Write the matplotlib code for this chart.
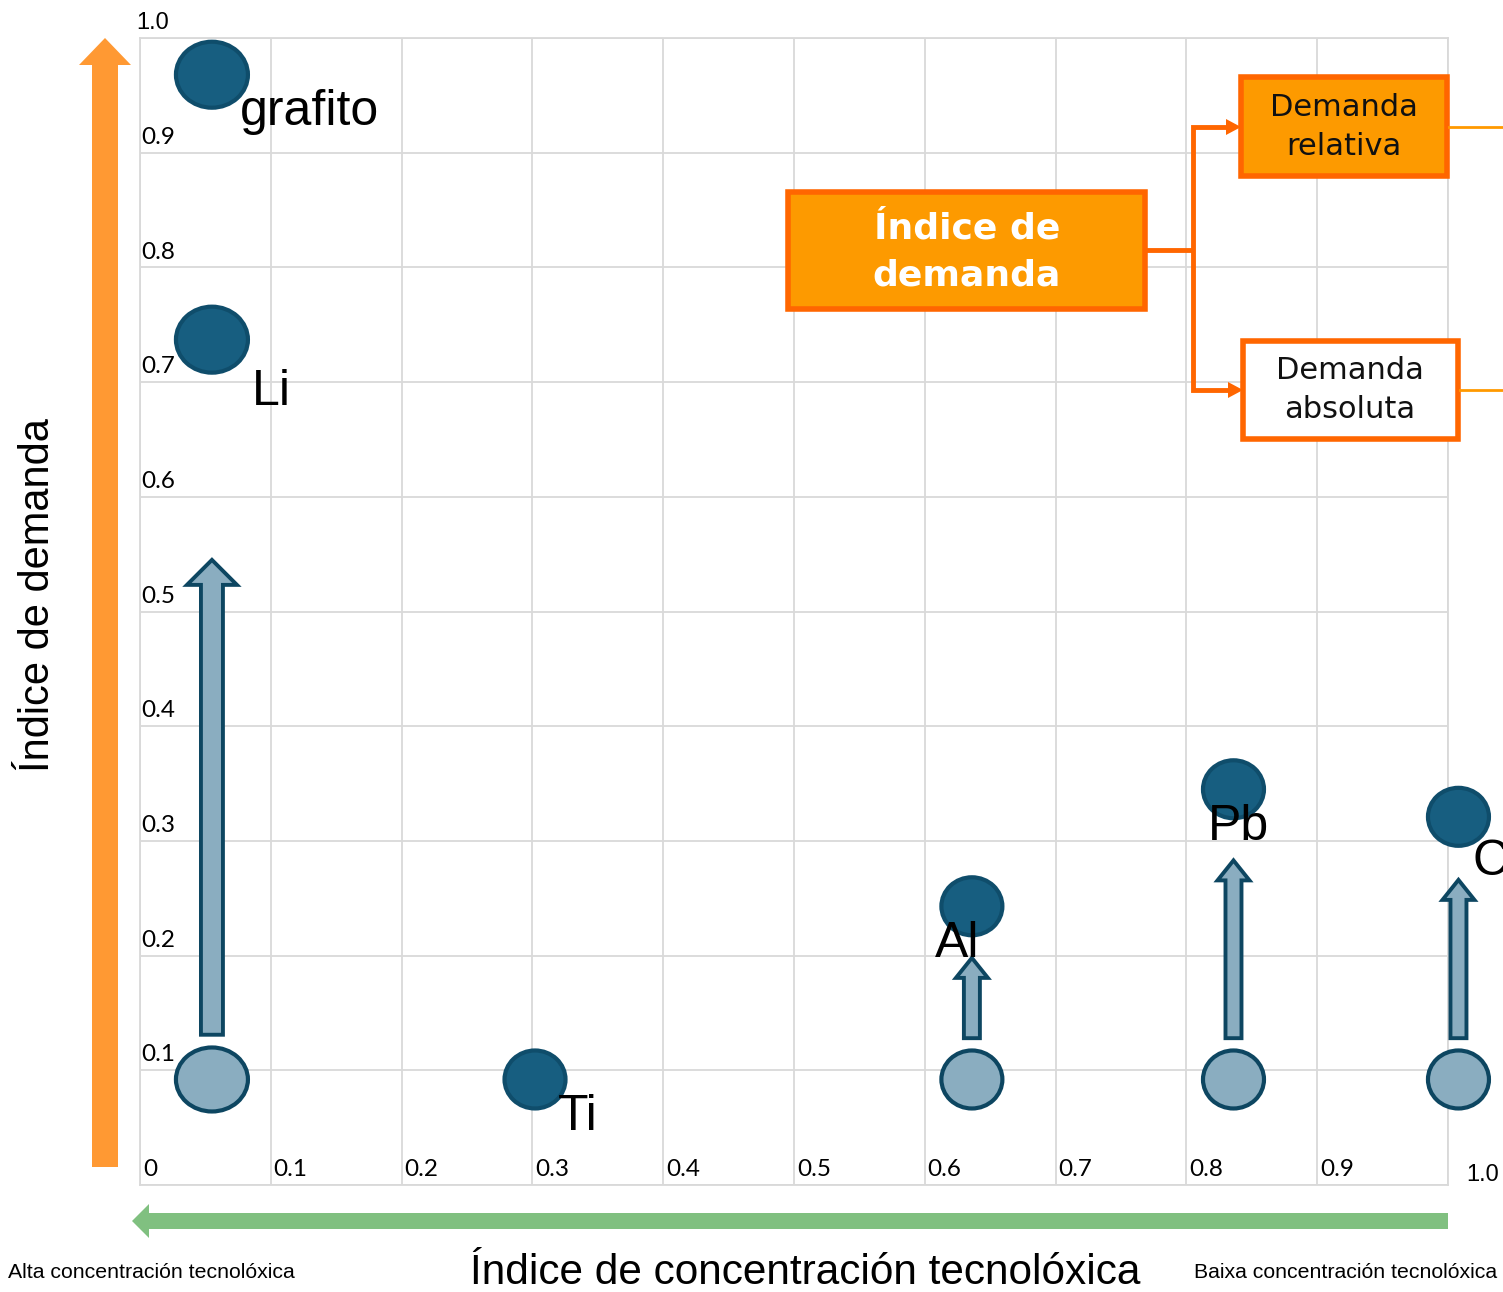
import numpy as np
import matplotlib
matplotlib.use("Agg")
import matplotlib.pyplot as plt
from matplotlib.patches import Ellipse, FancyArrow, Rectangle

# element data: technological concentration index (x) and demand index (y)
elementos = ["grafito", "Li", "Ti", "Al", "Pb", "C"]
concentracion = [0.055, 0.055, 0.302, 0.636, 0.836, 1.008]
demanda_nova = [0.968, 0.737, 0.092, 0.243, 0.345, 0.321]
demanda_actual = [np.nan, 0.092, np.nan, 0.092, 0.092, 0.092]
# growth arrows between current and new demand (nan = no arrow)
frecha_inicio = [np.nan, 0.131, np.nan, 0.128, 0.128, 0.128]
frecha_fin = [np.nan, 0.545, np.nan, 0.198, 0.283, 0.266]

ticks = np.round(np.arange(0, 1.01, 0.1), 1)

W, H = 1503, 1292
fig = plt.figure(figsize=(W / 100, H / 100), dpi=100)
x0, x1, y0, y1 = 140, 1448, 38, 1185
ax = fig.add_axes([x0 / W, (H - y1) / H, (x1 - x0) / W, (y1 - y0) / H])
ax.set_xlim(0, 1)
ax.set_ylim(0, 1)
ax.set_xticks(ticks)
ax.set_yticks(ticks)
ax.grid(color="#d9d9d9", lw=1.3)
ax.tick_params(length=0, labelleft=False, labelbottom=False)
for s in ax.spines.values():
    s.set_color("#d9d9d9")
    s.set_linewidth(1.3)
ax.set_axisbelow(True)

# pixel -> data size helpers
px_x = 1.0 / (x1 - x0)
px_y = 1.0 / (y1 - y0)

dark_fc, light_fc, edge = "#175e80", "#8aadc0", "#0d4661"

# tick labels drawn inside the plot area
for t in ticks[1:-1]:
    ax.annotate(f"{t:.1f}", (0, t), xytext=(1, 3.5), textcoords="offset points",
                ha="left", va="bottom", fontsize=17.5, family="Lato")
    ax.annotate(f"{t:.1f}", (t, 0), xytext=(2, 11), textcoords="offset points",
                ha="left", va="center", fontsize=17.5, family="Lato")
ax.annotate("0", (0, 0), xytext=(2, 11), textcoords="offset points",
            ha="left", va="center", fontsize=17.5, family="Lato")
ax.annotate("1.0", (0, 1), xytext=(9, 11), textcoords="offset points",
            ha="center", va="center", fontsize=17, family="Liberation Sans")
ax.annotate("1.0", (1, 0), xytext=(25, 7), textcoords="offset points",
            ha="center", va="center", fontsize=17, family="Liberation Sans",
            annotation_clip=False)

# label offsets (px) from the dark point, text baseline
label_off = [(28, -50), (40, -65), (23, -51), (-37, -51), (-26, -51), (14, -58)]
big = [True, True, False, False, False, False]

for i, nome in enumerate(elementos):
    cx = concentracion[i]
    wpx, hpx = (72, 66) if big[i] else (61, 58)
    # growth arrow
    if not np.isnan(frecha_fin[i]):
        if big[i]:
            sw, hw, hl = 22, 50, 25
        else:
            sw, hw, hl = 16, 32, 20
        ax.add_patch(FancyArrow(cx, frecha_inicio[i], 0, frecha_fin[i] - frecha_inicio[i],
                                width=sw * px_x, head_width=hw * px_x, head_length=hl * px_y,
                                length_includes_head=True, fc=light_fc, ec=edge, lw=2.8,
                                clip_on=False, zorder=3))
    if not np.isnan(demanda_actual[i]):
        lw_, lh_ = (72, 64) if big[i] else (61, 58)
        ax.add_patch(Ellipse((cx, demanda_actual[i]), lw_ * px_x, lh_ * px_y,
                             fc=light_fc, ec=edge, lw=3, clip_on=False, zorder=3))
    ax.add_patch(Ellipse((cx, demanda_nova[i]), wpx * px_x, hpx * px_y,
                         fc=dark_fc, ec="#0f4d6b", lw=3, clip_on=False, zorder=4))
    dx, dy = label_off[i]
    ax.annotate(nome, (cx, demanda_nova[i]), xytext=(dx * 0.72, dy * 0.72),
                textcoords="offset points", ha="left", va="baseline",
                fontsize=36, family="Liberation Sans", zorder=5,
                annotation_clip=False)

# overlay in pixel coordinates for axis arrows and the diagram
ov = fig.add_axes([0, 0, 1, 1], zorder=5)
ov.set_xlim(0, W)
ov.set_ylim(H, 0)
ov.axis("off")
ov.patch.set_alpha(0)

ov.add_patch(FancyArrow(105, 1167, 0, 38 - 1167, width=26, head_width=52, head_length=27,
                        length_includes_head=True, fc="#ff9933", lw=0))
ov.add_patch(FancyArrow(1448, 1221, 132 - 1448, 0, width=16, head_width=34, head_length=17,
                        length_includes_head=True, fc="#80c080", lw=0))

ov.text(38, 595, "Índice de demanda", rotation=90, ha="center", va="center",
        fontsize=30, family="Liberation Sans")
ov.text(805, 1273, "Índice de concentración tecnolóxica", ha="center", va="center",
        fontsize=30.5, family="Liberation Sans")
ov.text(8, 1272, "Alta concentración tecnolóxica", ha="left", va="center",
        fontsize=15.3, family="Liberation Sans")
ov.text(1497, 1272, "Baixa concentración tecnolóxica", ha="right", va="center",
        fontsize=15.3, family="Liberation Sans")

# demand index diagram
laranxa, borde = "#fd9a00", "#ff6600"
ov.add_patch(Rectangle((788, 192), 357, 117, fc=laranxa, ec=borde, lw=4))
ov.text(967, 252, "Índice de\ndemanda", ha="center", va="center", color="white",
        fontsize=26, fontweight="bold", family="DejaVu Sans", linespacing=1.45)
ov.add_patch(Rectangle((1241, 77), 206, 99, fc=laranxa, ec=borde, lw=4))
ov.text(1344, 127, "Demanda\nrelativa", ha="center", va="center", color="#111111",
        fontsize=22, family="DejaVu Sans", linespacing=1.4)
ov.add_patch(Rectangle((1243, 341), 215, 98, fc="white", ec=borde, lw=4))
ov.text(1350, 390, "Demanda\nabsoluta", ha="center", va="center", color="#111111",
        fontsize=22, family="DejaVu Sans", linespacing=1.4)

# connectors
ov.plot([1145, 1193], [250, 250], color=borde, lw=3.5, solid_capstyle="butt")
ov.plot([1228, 1193, 1193, 1230], [127, 127, 390, 390], color=borde, lw=3.5,
        solid_joinstyle="miter", solid_capstyle="butt")
ov.add_patch(plt.Polygon([[1226, 119], [1241, 127], [1226, 135]], fc=borde, lw=0))
ov.add_patch(plt.Polygon([[1228, 382], [1243, 390], [1228, 398]], fc=borde, lw=0))
ov.plot([1449, 1503], [127, 127], color="#ff9900", lw=2)
ov.plot([1460, 1503], [390, 390], color="#ff9900", lw=2)

fig.savefig("out.png", dpi=100)
